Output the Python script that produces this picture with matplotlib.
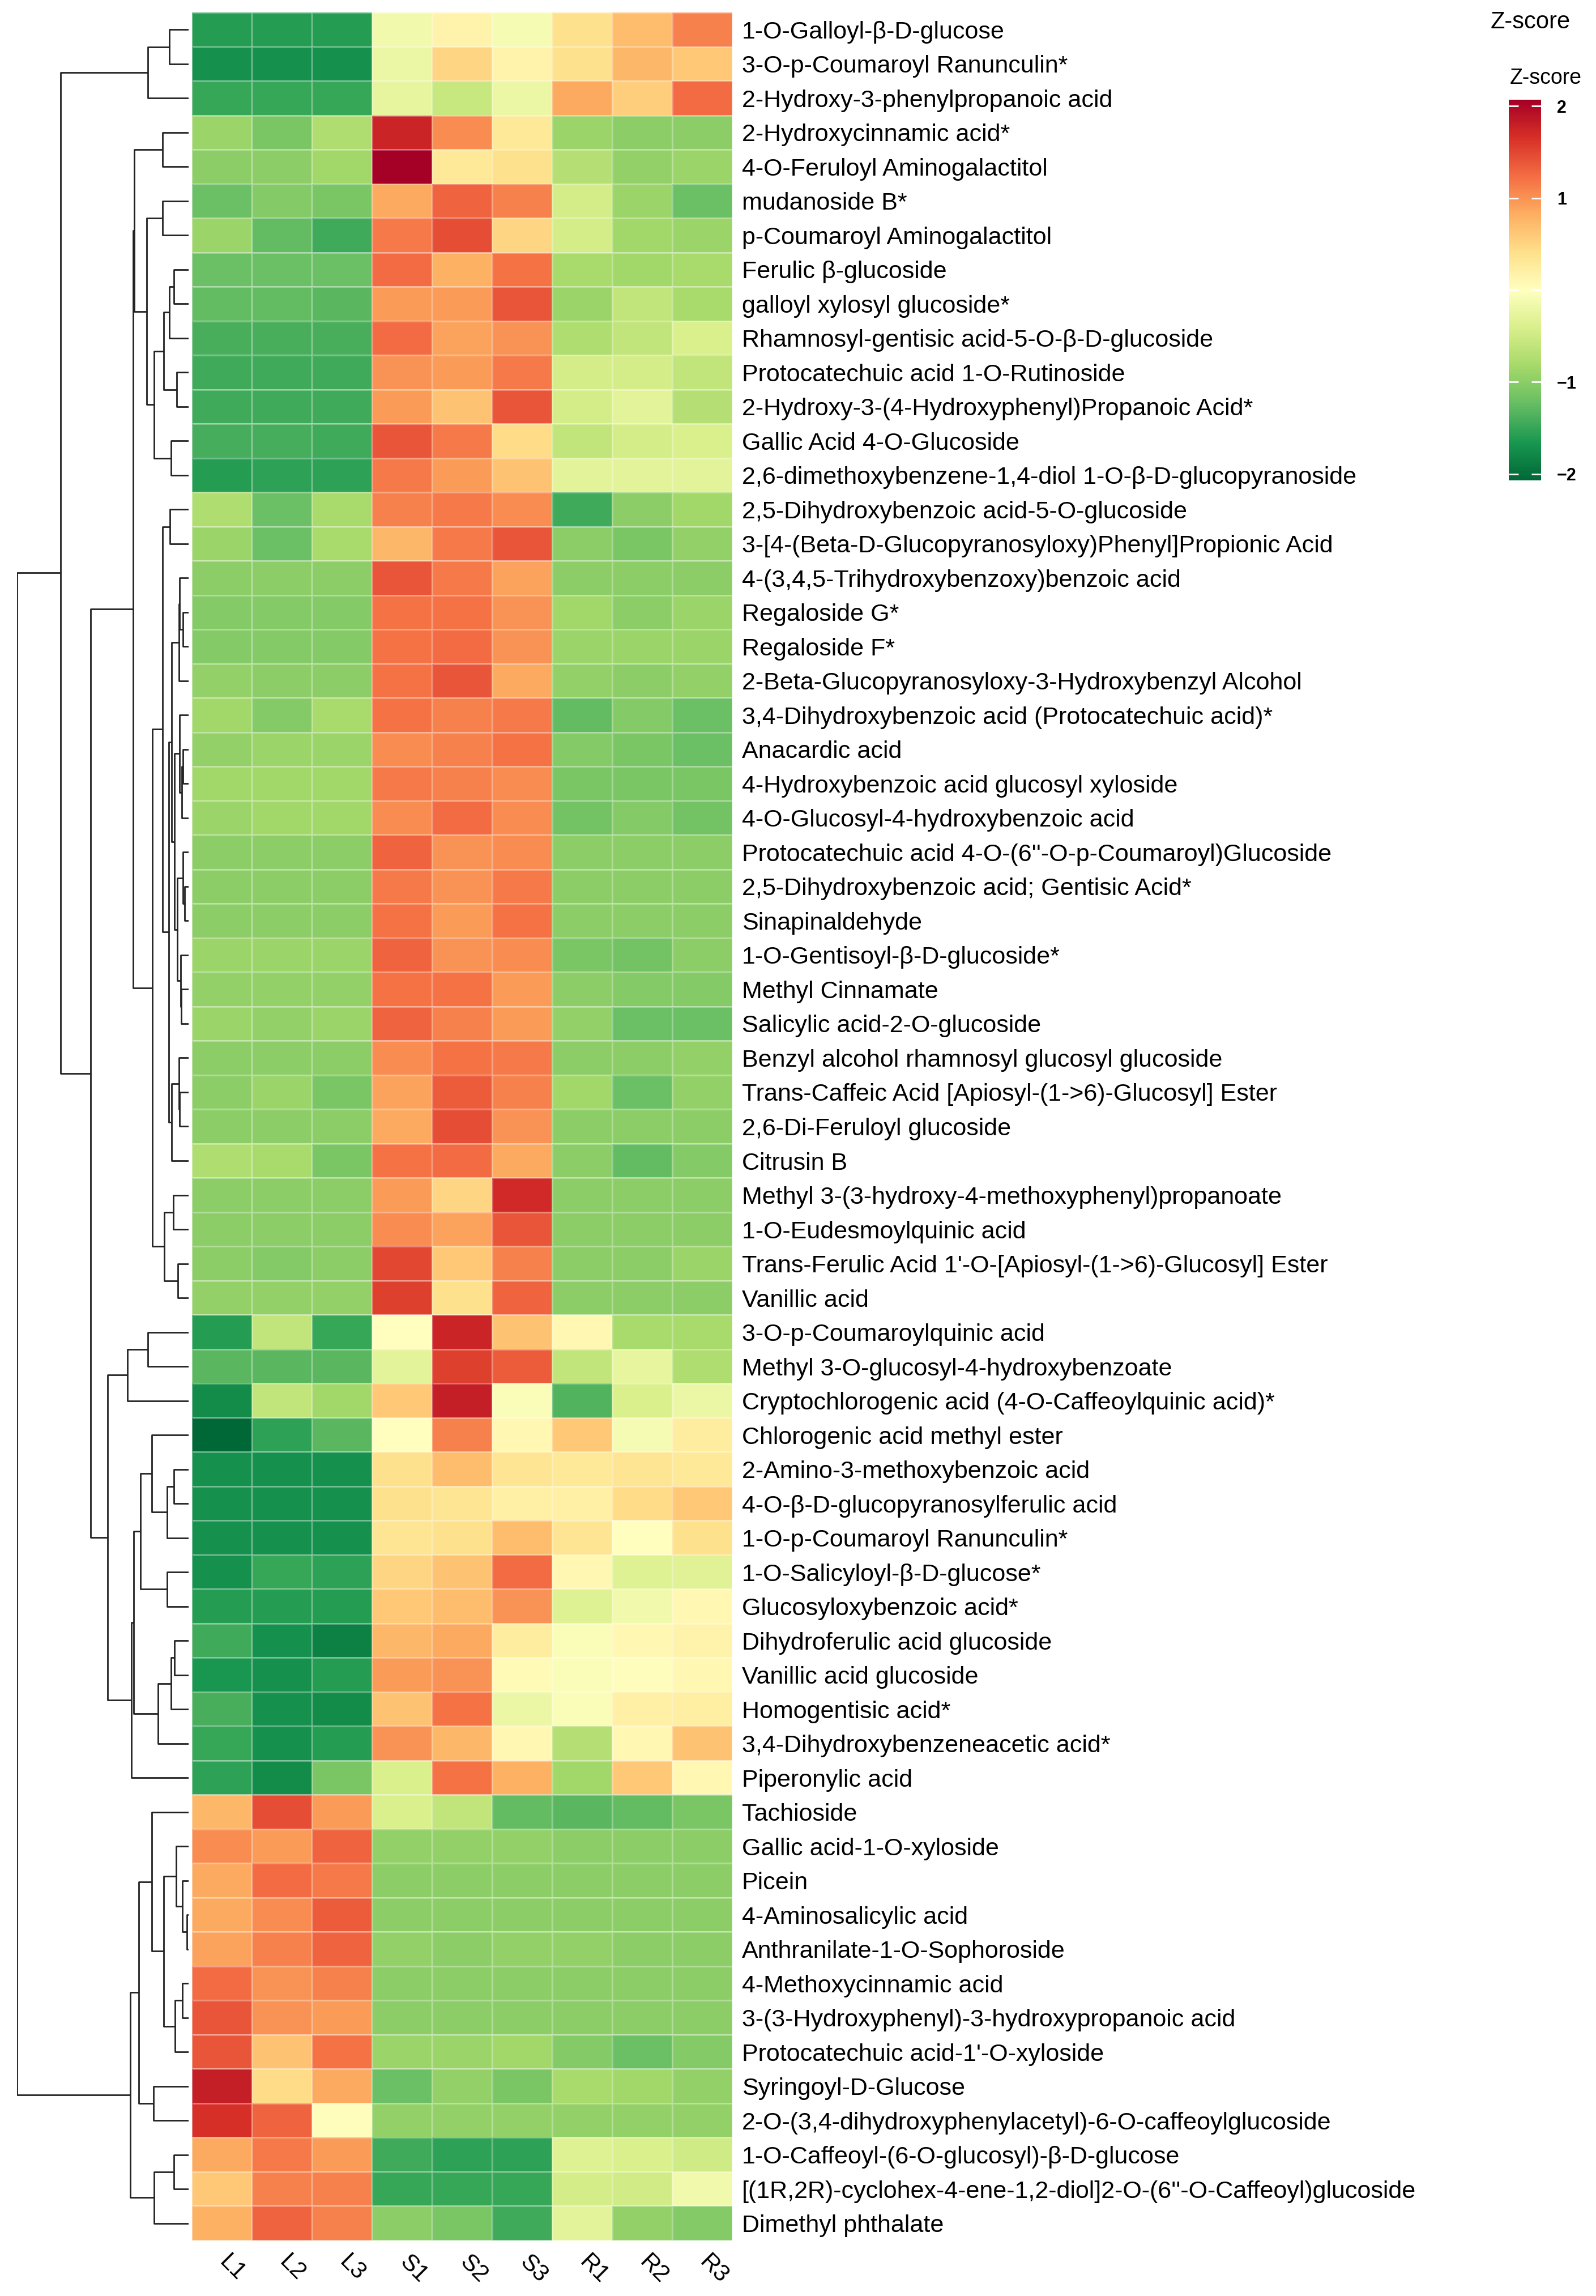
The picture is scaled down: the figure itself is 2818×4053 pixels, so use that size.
import numpy as np
import matplotlib
matplotlib.use("Agg")
import matplotlib.pyplot as plt

plt.rcParams['font.family'] = ['Liberation Sans', 'DejaVu Sans']

row_labels = [
    "1-O-Galloyl-β-D-glucose",
    "3-O-p-Coumaroyl Ranunculin*",
    "2-Hydroxy-3-phenylpropanoic acid",
    "2-Hydroxycinnamic acid*",
    "4-O-Feruloyl Aminogalactitol",
    "mudanoside B*",
    "p-Coumaroyl Aminogalactitol",
    "Ferulic β-glucoside",
    "galloyl xylosyl glucoside*",
    "Rhamnosyl-gentisic acid-5-O-β-D-glucoside",
    "Protocatechuic acid 1-O-Rutinoside",
    "2-Hydroxy-3-(4-Hydroxyphenyl)Propanoic Acid*",
    "Gallic Acid 4-O-Glucoside",
    "2,6-dimethoxybenzene-1,4-diol 1-O-β-D-glucopyranoside",
    "2,5-Dihydroxybenzoic acid-5-O-glucoside",
    "3-[4-(Beta-D-Glucopyranosyloxy)Phenyl]Propionic Acid",
    "4-(3,4,5-Trihydroxybenzoxy)benzoic acid",
    "Regaloside G*",
    "Regaloside F*",
    "2-Beta-Glucopyranosyloxy-3-Hydroxybenzyl Alcohol",
    "3,4-Dihydroxybenzoic acid (Protocatechuic acid)*",
    "Anacardic acid",
    "4-Hydroxybenzoic acid glucosyl xyloside",
    "4-O-Glucosyl-4-hydroxybenzoic acid",
    "Protocatechuic acid 4-O-(6''-O-p-Coumaroyl)Glucoside",
    "2,5-Dihydroxybenzoic acid; Gentisic Acid*",
    "Sinapinaldehyde",
    "1-O-Gentisoyl-β-D-glucoside*",
    "Methyl Cinnamate",
    "Salicylic acid-2-O-glucoside",
    "Benzyl alcohol rhamnosyl glucosyl glucoside",
    "Trans-Caffeic Acid [Apiosyl-(1->6)-Glucosyl] Ester",
    "2,6-Di-Feruloyl glucoside",
    "Citrusin B",
    "Methyl 3-(3-hydroxy-4-methoxyphenyl)propanoate",
    "1-O-Eudesmoylquinic acid",
    "Trans-Ferulic Acid 1'-O-[Apiosyl-(1->6)-Glucosyl] Ester",
    "Vanillic acid",
    "3-O-p-Coumaroylquinic acid",
    "Methyl 3-O-glucosyl-4-hydroxybenzoate",
    "Cryptochlorogenic acid (4-O-Caffeoylquinic acid)*",
    "Chlorogenic acid methyl ester",
    "2-Amino-3-methoxybenzoic acid",
    "4-O-β-D-glucopyranosylferulic acid",
    "1-O-p-Coumaroyl Ranunculin*",
    "1-O-Salicyloyl-β-D-glucose*",
    "Glucosyloxybenzoic acid*",
    "Dihydroferulic acid glucoside",
    "Vanillic acid glucoside",
    "Homogentisic acid*",
    "3,4-Dihydroxybenzeneacetic acid*",
    "Piperonylic acid",
    "Tachioside",
    "Gallic acid-1-O-xyloside",
    "Picein",
    "4-Aminosalicylic acid",
    "Anthranilate-1-O-Sophoroside",
    "4-Methoxycinnamic acid",
    "3-(3-Hydroxyphenyl)-3-hydroxypropanoic acid",
    "Protocatechuic acid-1'-O-xyloside",
    "Syringoyl-D-Glucose",
    "2-O-(3,4-dihydroxyphenylacetyl)-6-O-caffeoylglucoside",
    "1-O-Caffeoyl-(6-O-glucosyl)-β-D-glucose",
    "[(1R,2R)-cyclohex-4-ene-1,2-diol]2-O-(6''-O-Caffeoyl)glucoside",
    "Dimethyl phthalate",
]

col_labels = ["L1", "L2", "L3", "S1", "S2", "S3", "R1", "R2", "R3"]

# z-scores, L group
z_L = [
    [-1.6, -1.6, -1.6], [-1.7, -1.7, -1.7], [-1.5, -1.5, -1.5], [-0.9, -1.1, -0.75],
    [-1.0, -1.0, -0.85], [-1.2, -1.05, -1.1], [-0.9, -1.25, -1.45], [-1.2, -1.2, -1.2],
    [-1.25, -1.25, -1.3], [-1.4, -1.4, -1.4], [-1.45, -1.45, -1.45], [-1.45, -1.45, -1.45],
    [-1.42, -1.42, -1.45], [-1.6, -1.55, -1.55], [-0.75, -1.2, -0.8], [-0.9, -1.2, -0.8],
    [-1.0, -1.0, -1.0], [-1.05, -1.05, -1.05], [-1.05, -1.05, -1.05], [-0.95, -1.0, -1.0],
    [-0.85, -1.05, -0.8], [-0.95, -0.9, -0.9], [-0.85, -0.85, -0.85], [-0.9, -0.85, -0.85],
    [-1.0, -1.0, -1.0], [-1.0, -1.0, -1.0], [-1.0, -1.0, -1.0], [-0.9, -0.9, -0.9],
    [-0.95, -0.95, -0.95], [-0.9, -0.95, -0.9], [-1.0, -1.0, -1.0], [-1.0, -0.9, -1.1],
    [-1.0, -1.0, -1.0], [-0.75, -0.8, -1.1], [-1.0, -1.0, -1.0], [-1.0, -1.0, -1.0],
    [-1.0, -1.05, -1.0], [-0.95, -0.95, -0.95], [-1.6, -0.6, -1.5], [-1.3, -1.3, -1.3],
    [-1.75, -0.6, -0.85], [-2.07, -1.55, -1.3], [-1.7, -1.7, -1.7], [-1.7, -1.7, -1.7],
    [-1.7, -1.7, -1.7], [-1.7, -1.5, -1.55], [-1.6, -1.6, -1.6], [-1.45, -1.7, -1.85],
    [-1.65, -1.7, -1.6], [-1.4, -1.7, -1.75], [-1.5, -1.7, -1.6], [-1.55, -1.75, -1.1],
    [0.75, 1.45, 0.95], [1.05, 0.95, 1.3], [0.85, 1.25, 1.15], [0.85, 1.05, 1.35],
    [0.9, 1.1, 1.3], [1.25, 1.0, 1.1], [1.4, 1.0, 0.95], [1.4, 0.65, 1.2],
    [1.8, 0.45, 0.85], [1.65, 1.3, 0.02], [0.85, 1.15, 0.95], [0.6, 1.1, 1.1],
    [0.8, 1.3, 1.1],
]

# z-scores, S group
z_S = [
    [-0.15, 0.15, -0.1], [-0.2, 0.5, 0.15], [-0.25, -0.55, -0.2], [1.75, 1.05, 0.3],
    [2.07, 0.3, 0.4], [0.85, 1.3, 1.1], [1.15, 1.45, 0.5], [1.25, 0.8, 1.2],
    [0.95, 0.95, 1.4], [1.25, 0.9, 1.0], [1.0, 0.95, 1.15], [0.95, 0.65, 1.4],
    [1.4, 1.15, 0.45], [1.15, 0.95, 0.65], [1.1, 1.15, 1.05], [0.75, 1.15, 1.4],
    [1.4, 1.15, 0.9], [1.2, 1.2, 1.0], [1.2, 1.25, 1.0], [1.2, 1.4, 0.85],
    [1.2, 1.1, 1.15], [1.05, 1.1, 1.2], [1.15, 1.1, 1.05], [1.05, 1.25, 1.05],
    [1.3, 1.0, 1.05], [1.15, 1.0, 1.15], [1.2, 0.95, 1.2], [1.3, 1.0, 1.05],
    [1.2, 1.2, 0.95], [1.3, 1.1, 0.95], [1.05, 1.2, 1.15], [0.9, 1.35, 1.1],
    [0.85, 1.45, 1.0], [1.2, 1.25, 0.85], [0.95, 0.5, 1.7], [1.05, 0.9, 1.4],
    [1.5, 0.6, 1.1], [1.55, 0.4, 1.3], [0.0, 1.75, 0.65], [-0.3, 1.55, 1.35],
    [0.6, 1.8, -0.05], [0.0, 1.1, 0.1], [0.4, 0.7, 0.35], [0.4, 0.35, 0.2],
    [0.35, 0.4, 0.7], [0.5, 0.65, 1.25], [0.6, 0.7, 1.0], [0.75, 0.85, 0.25],
    [0.95, 1.0, 0.08], [0.65, 1.2, -0.2], [1.0, 0.75, 0.1], [-0.4, 1.2, 0.8],
    [-0.4, -0.6, -1.25], [-0.95, -0.95, -0.95], [-1.0, -1.0, -1.0], [-1.0, -1.0, -1.0],
    [-0.95, -1.0, -0.95], [-1.0, -1.0, -1.0], [-1.0, -1.0, -1.0], [-0.9, -0.9, -0.85],
    [-1.2, -0.95, -1.1], [-0.95, -0.95, -0.95], [-1.45, -1.55, -1.55], [-1.5, -1.5, -1.5],
    [-1.0, -1.1, -1.45],
]

# z-scores, R group
z_R = [
    [0.4, 0.7, 1.1], [0.4, 0.75, 0.6], [0.85, 0.55, 1.25], [-0.9, -1.0, -1.0],
    [-0.7, -0.95, -0.9], [-0.45, -0.9, -1.2], [-0.45, -0.85, -0.9], [-0.8, -0.85, -0.8],
    [-0.9, -0.6, -0.8], [-0.75, -0.6, -0.4], [-0.45, -0.45, -0.6], [-0.45, -0.3, -0.7],
    [-0.6, -0.45, -0.4], [-0.3, -0.3, -0.3], [-1.45, -1.0, -0.85], [-1.0, -1.1, -0.95],
    [-1.0, -1.0, -1.0], [-0.85, -1.0, -0.9], [-0.9, -0.9, -0.9], [-0.95, -1.0, -0.95],
    [-1.25, -1.05, -1.2], [-1.05, -1.1, -1.2], [-1.1, -1.1, -1.1], [-1.15, -1.05, -1.15],
    [-1.0, -1.0, -1.0], [-1.0, -1.0, -1.0], [-1.0, -1.0, -1.0], [-1.1, -1.15, -1.0],
    [-1.0, -1.05, -1.05], [-0.95, -1.2, -1.2], [-1.0, -1.0, -0.95], [-0.85, -1.2, -0.95],
    [-1.0, -1.0, -1.0], [-1.0, -1.25, -1.05], [-1.0, -1.0, -1.0], [-1.0, -1.0, -1.0],
    [-1.0, -1.0, -0.9], [-1.0, -1.0, -1.0], [0.1, -0.8, -0.8], [-0.6, -0.25, -0.75],
    [-1.35, -0.4, -0.2], [0.6, -0.1, 0.25], [0.3, 0.35, 0.3], [0.2, 0.45, 0.6],
    [0.35, 0.0, 0.4], [0.1, -0.35, -0.33], [-0.35, -0.15, 0.1], [-0.05, 0.1, 0.15],
    [-0.05, 0.03, 0.1], [-0.05, 0.2, 0.22], [-0.7, 0.1, 0.65], [-0.85, 0.6, 0.1],
    [-1.3, -1.25, -1.1], [-1.0, -1.0, -1.0], [-1.0, -1.0, -1.0], [-1.0, -1.0, -1.0],
    [-0.95, -1.0, -1.0], [-1.0, -1.0, -1.0], [-1.0, -1.0, -1.0], [-1.05, -1.2, -1.05],
    [-0.8, -0.85, -0.95], [-0.95, -0.95, -0.95], [-0.35, -0.4, -0.5], [-0.45, -0.47, -0.15],
    [-0.3, -0.95, -1.05],
]

# row dendrogram: [height, left, right], leaves are row indices
row_tree = [303,
    [226,
        [72, [34, 0, 1], 2],
        [173,
            [98,
                [96, [46, 3, 4],
                     [74, [46, 5, 6],
                          [61, [44, [34, [26, 7, 8], 9], [21, 10, 11]], [31, 12, 13]]]],
                [64,
                    [46, [33, 14, 15],
                         [35,
                            [30, [17, [16, 16, [10, 17, 18]], 19],
                                 [25, [16, 20, [12, [10, 21, 22], 23]],
                                      [20, [10, 24, [7, 25, 26]], [14, 27, [13, 28, 29]]]]],
                            [30, [17, 30, [16, 31, 32]], 33]]],
                    [43, [27, 34, 35], [19, 36, 37]]]],
            [143,
                [108, [72, 38, 39], 40],
                [101,
                    [97,
                        [85, [65, 41, [38, [26, 42, 43], 44]], [38, 45, 46]],
                        [54, [31, [25, 47, 48], 49], 50]],
                    51]]]],
    [103,
        [88,
            [65, 52, [44, [22, 53, [11, 54, [3, 55, 56]]], [24, [11, 57, 58], 59]]],
            [62, 60, 61]],
        [61, [26, 62, 63], 64]]]


def dendro_segments(node, segs):
    if isinstance(node, int):
        return node + 0.5, 0.0
    h, left, right = node
    y1, h1 = dendro_segments(left, segs)
    y2, h2 = dendro_segments(right, segs)
    segs.append(([h1, h, h, h2], [y1, y1, y2, y2]))
    return (y1 + y2) / 2, h


z = np.hstack([np.array(z_L), np.array(z_S), np.array(z_R)])
n_rows, n_cols = z.shape

W, H = 2818, 4053
fig = plt.figure(figsize=(W / 100, H / 100), dpi=100)

hm_left, hm_right, hm_top, hm_bottom = 339, 1293, 22, 3955
ax = fig.add_axes([hm_left / W, 1 - hm_bottom / H, (hm_right - hm_left) / W, (hm_bottom - hm_top) / H])
mesh = ax.pcolormesh(z, cmap="RdYlGn_r", vmin=-2.07, vmax=2.07,
                     edgecolors=(1, 1, 1, 0.3), linewidth=1.0)
ax.set_xlim(0, n_cols)
ax.set_ylim(n_rows, 0)
for s in ax.spines.values():
    s.set_visible(False)
ax.yaxis.tick_right()
ax.set_yticks(np.arange(n_rows) + 0.5)
ax.set_yticklabels(row_labels, fontsize=31)
ax.tick_params(axis="y", length=0, pad=12)
ax.set_xticks([])
for j, lab in enumerate(col_labels):
    ax.text(j + 0.44, n_rows + 0.66, lab, fontsize=30, rotation=-45,
            ha="left", va="baseline", rotation_mode="anchor", clip_on=False)

# dendrogram
dx_left, dx_right = 30, 333
dax = fig.add_axes([dx_left / W, 1 - hm_bottom / H, (dx_right - dx_left) / W, (hm_bottom - hm_top) / H])
segs = []
dendro_segments(row_tree, segs)
for xs, ys in segs:
    dax.plot(xs, ys, color="#222222", lw=2.0, solid_capstyle="butt")
dax.set_xlim(row_tree[0], 0)
dax.set_ylim(n_rows, 0)
dax.axis("off")

# colorbar
cb_l, cb_r, cb_t, cb_b = 2664, 2721, 176, 848
cax = fig.add_axes([cb_l / W, 1 - cb_b / H, (cb_r - cb_l) / W, (cb_b - cb_t) / H])
cb = fig.colorbar(mesh, cax=cax, ticks=[-2, -1, 0, 1, 2])
cb.outline.set_visible(False)
cb.ax.set_yticklabels(["\u22122", "\u22121", "", "1", "2"], fontsize=22, fontweight="bold")
cb.ax.tick_params(direction="in", color="white", length=12, width=2, left=True, right=True, pad=20)

fig.text(2702 / W, 1 - 39 / H, "Z-score", fontsize=30, ha="center", va="center")
fig.text(2666 / W, 1 - 138 / H, "Z-score", fontsize=27, ha="left", va="center")

fig.savefig("out.png", dpi=100, facecolor="white")
